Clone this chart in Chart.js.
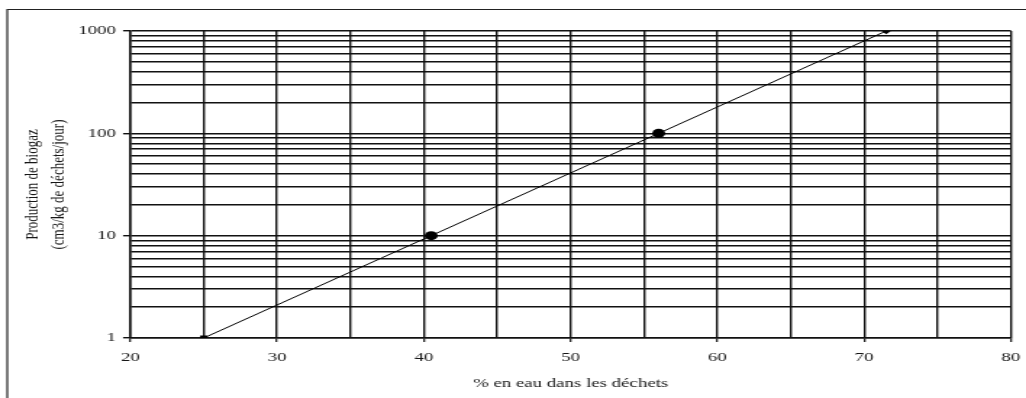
<!DOCTYPE html>
<html>
<head>
<meta charset="utf-8">
<script src="https://cdn.jsdelivr.net/npm/chart.js@4/dist/chart.umd.min.js"></script>
<style>
  html, body { margin: 0; padding: 0; background: #fff; overflow: hidden; }
  /* The figure is drawn on a narrower canvas and widened to the page width */
  #wrap { width: 708px; height: 398px; transform: scaleX(1.4492); transform-origin: 0 0; }
</style>
</head>
<body>
<div id="wrap"><canvas id="c" width="708" height="398"></canvas></div>
<script>
// Water content (%) versus biogas production (cm3/kg of waste per day)
const waterContent = [25, 40.5, 56, 71.5];
const biogasProduction = [1, 10, 100, 1000];

// Axis ticks
const xMin = 20, xMax = 80, xStep = 5;
const xLabelEvery = 10;
const yDecades = [1, 10, 100];
const ySignificands = [1, 2, 3, 4, 5, 6, 7, 8, 9];
const yLabels = [1, 10, 100, 1000];
const yTickValues = yDecades.flatMap(d => ySignificands.map(s => s * d)).concat([1000]);

const serif = "'Liberation Serif', 'Times New Roman', serif";
const ink = '#111';
const textInk = '#161616';

// Page frame around the figure
const framePlugin = {
  id: 'frame',
  beforeDraw(chart) {
    const ctx = chart.ctx;
    ctx.save();
    ctx.strokeStyle = '#222';
    ctx.lineWidth = 1.2;
    ctx.beginPath();
    ctx.moveTo(5, 398);
    ctx.lineTo(5, 9.5);
    ctx.lineTo(708, 9.5);
    ctx.stroke();
    ctx.restore();
  }
};

new Chart(document.getElementById('c'), {
  type: 'scatter',
  data: {
    datasets: [{
      data: waterContent.map((x, i) => ({ x, y: biogasProduction[i] })),
      showLine: true,
      borderColor: '#000',
      borderWidth: 1,
      backgroundColor: '#000',
      pointStyle: ['rect', 'circle', 'circle', 'rectRot'],
      pointRadius: [3.5, 4.5, 4.5, 3.2],
      pointBorderWidth: 0,
      tension: 0
    }]
  },
  options: {
    responsive: false,
    animation: false,
    devicePixelRatio: 1,
    plugins: {
      legend: { display: false },
      tooltip: { enabled: false }
    },
    layout: { padding: { left: 0, top: 31, right: 10.4, bottom: 0 } },
    scales: {
      x: {
        type: 'linear',
        min: xMin,
        max: xMax,
        afterFit(scale) {
          scale.height = 60;
          scale.paddingLeft = 0;
          scale.paddingRight = 0;
        },
        ticks: {
          stepSize: xStep,
          autoSkip: false,
          maxRotation: 0,
          padding: 8,
          color: textInk,
          font: { family: serif, size: 13 },
          callback: v => (v % xLabelEvery === 0 ? String(v) : '')
        },
        grid: {
          color: ink,
          lineWidth: 1.4,
          tickLength: 4,
          tickColor: c => (c.tick && c.tick.value % xLabelEvery === 0 ? ink : 'rgba(0,0,0,0)'),
          tickWidth: 1.2
        },
        border: { display: true, color: ink, width: 1.5 },
        title: {
          display: true,
          text: '% en eau dans les déchets',
          color: textInk,
          font: { family: serif, size: 13 },
          padding: { top: 0, bottom: 7 }
        }
      },
      y: {
        type: 'logarithmic',
        min: 1,
        max: 1000,
        afterFit(scale) { scale.width = 89.9; },
        afterBuildTicks(scale) {
          scale.ticks = yTickValues.map(v => ({ value: v, major: yLabels.includes(v) }));
        },
        ticks: {
          autoSkip: false,
          padding: 5,
          color: textInk,
          font: { family: serif, size: 13 },
          callback: v => (yLabels.includes(v) ? String(v) : '')
        },
        grid: {
          color: ink,
          lineWidth: 1.4,
          tickLength: 5,
          tickColor: c => (c.tick && yLabels.includes(c.tick.value) ? ink : 'rgba(0,0,0,0)'),
          tickWidth: 1.4
        },
        border: { display: true, color: ink, width: 1.5 },
        title: {
          display: true,
          text: ['Production de biogaz', '(cm3/kg de déchets/jour)'],
          color: textInk,
          font: { family: serif, size: 13, lineHeight: 1.4 },
          padding: { top: 13.5, bottom: 0 }
        }
      }
    }
  },
  plugins: [framePlugin]
});
</script>
</body>
</html>
